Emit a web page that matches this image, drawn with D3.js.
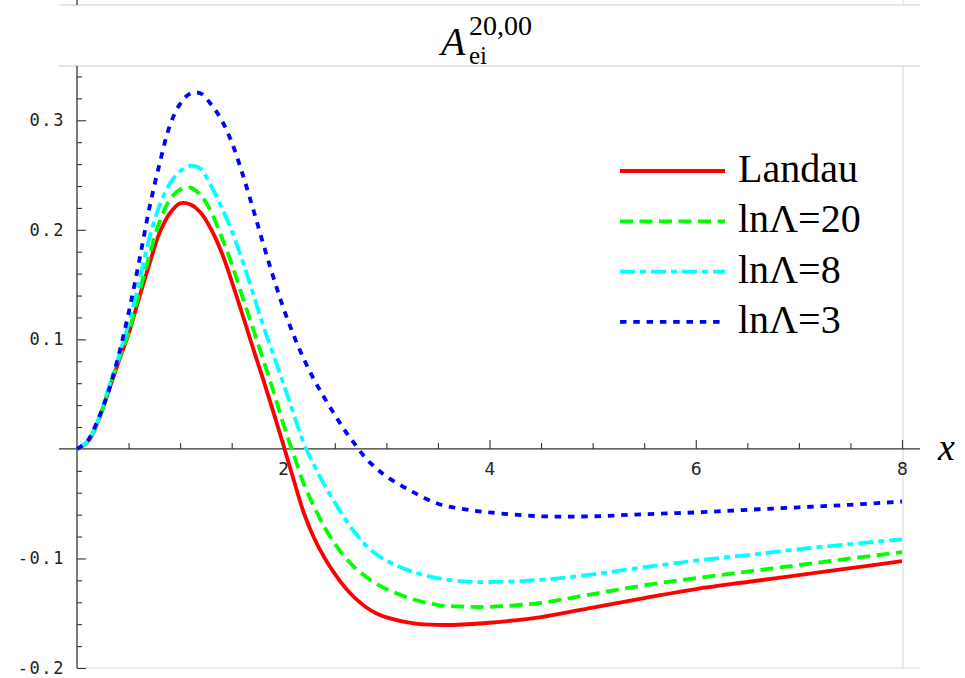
<!DOCTYPE html>
<html>
<head>
<meta charset="utf-8">
<script src="https://cdn.jsdelivr.net/npm/d3@7"></script>
<style>
  body { margin: 0; background: #fff; }
  svg { display: block; }
  .serif { font-family: "Liberation Serif", Tinos, "Times New Roman", Times, "Nimbus Roman", "DejaVu Serif", serif; }
  .mono { font-family: "DejaVu Sans Mono", "Liberation Mono", monospace; }
  .sans { font-family: "DejaVu Sans", sans-serif; }
</style>
</head>
<body>
<div id="chart"></div>
<script>
// data
const xs = [0, 0.1, 0.2, 0.3, 0.4, 0.5, 0.6, 0.7, 0.8, 0.9, 1.0, 1.1, 1.2, 1.3, 1.4, 1.5, 1.6, 1.7, 1.8, 1.9, 2.0,
  2.1, 2.2, 2.3, 2.4, 2.5, 2.6, 2.7, 2.8, 2.9, 3.0, 3.25, 3.5, 3.75, 4.0, 4.5, 5.0, 5.5, 6.0, 6.5, 7.0, 7.5, 8.0]

const landau = [0, .006, .024, .051, .0786, .105, .137, .168, .197, .215, .2242, .2232, .2155, .2005, .180, .153, .124, .094, .065, .035, .004,
  -.028, -.0585, -.0815, -.0993, -.114, -.1265, -.1365, -.1443, -.150, -.1538,
  -.159, -.1607, -.1603, -.1587, -.1535, -.1448, -.1362, -.128, -.1215, -.1152, -.1088, -.1025]

const lnL20 = [0, .006, .024, .052, .080, .106, .141, .176, .207, .2274, .2368, .2385, .2315, .2165, .194, .169, .140, .112, .083, .054, .023,
  -.005, -.032, -.053, -.0715, -.0865, -.099, -.109, -.1165, -.123, -.128,
  -.137, -.1425, -.144, -.1442, -.1405, -.1325, -.1245, -.118, -.112, -.106, -.100, -.0943]

const lnL8 = [0, .007, .025, .054, .083, .114, .151, .192, .222, .242, .2535, .2585, .2555, .240, .221, .199, .173, .144, .114, .087, .060,
  .032, .005, -.015, -.033, -.049, -.064, -.077, -.088, -.096, -.102,
  -.112, -.118, -.121, -.1215, -.1195, -.1145, -.108, -.102, -.097, -.0916, -.087, -.0825]

const lnL3 = [0, .007, .026, .051, .084, .124, .170, .219, .260, .295, .315, .3245, .3245, .3145, .3005, .280, .2525, .2215, .189, .158, .129,
  .104, .082, .063, .0465, .031, .0165, .0037, -.0085, -.0175, -.025,
  -.039, -.050, -.055, -.058, -.0615, -.0615, -.0596, -.058, -.0556, -.0533, -.051, -.048]

const seriesNames = ['Landau', 'lnΛ=20', 'lnΛ=8', 'lnΛ=3']
const seriesValues = [landau, lnL20, lnL8, lnL3]
const seriesColors = ['#ff0000', '#00ff00', '#00ffff', '#0000ff']
const seriesDash = [null, '13,6.5', '15,5,6,5', '6.5,6.8']

const xTickValues = [2, 4, 6, 8]
const xTickLabels = ['2', '4', '6', '8']
const yTickValues = [-0.2, -0.1, 0.1, 0.2, 0.3]
const yTickLabels = ['-0.2', '-0.1', '0.1', '0.2', '0.3']

const width = 965
const height = 678

const svg = d3.select('#chart')
  .append('svg')
  .attr('width', width)
  .attr('height', height)

svg.append('rect').attr('width', width).attr('height', height).attr('fill', '#fff')

const x = d3.scaleLinear().domain([0, 8]).range([77, 902])
const y = d3.scaleLinear().domain([-0.2, 0.35]).range([668, 65.5])

// frame bits (edge of the panel above, this panel's gray border)
const gray = '#dcdcdc'
svg.append('line').attr('x1', 59).attr('x2', 920).attr('y1', 5).attr('y2', 5)
  .attr('stroke', gray).attr('stroke-width', 1.5)
svg.append('line').attr('x1', 903).attr('x2', 903).attr('y1', 0).attr('y2', 6)
  .attr('stroke', gray)
svg.append('line').attr('x1', 77).attr('x2', 77).attr('y1', 0).attr('y2', 5)
  .attr('stroke', '#333').attr('stroke-width', 1.2)
svg.append('line').attr('x1', 59).attr('x2', 920).attr('y1', 66).attr('y2', 66)
  .attr('stroke', gray).attr('stroke-width', 1.5)
svg.append('line').attr('x1', 903).attr('x2', 903).attr('y1', 66).attr('y2', 668)
  .attr('stroke', gray).attr('stroke-width', 1.2)
svg.append('line').attr('x1', 77).attr('x2', 920).attr('y1', 668).attr('y2', 668)
  .attr('stroke', gray).attr('stroke-width', 1.2)

// title: A with subscript and superscript
const title = svg.append('text').attr('class', 'serif').attr('fill', '#000')
title.append('tspan').attr('x', 441).attr('y', 55).attr('font-size', 40).attr('font-style', 'italic').text('A')
title.append('tspan').attr('x', 469).attr('y', 35).attr('font-size', 28).text('20,00')
svg.append('text').attr('class', 'serif')
  .attr('x', 469).attr('y', 64).attr('font-size', 25).text('ei')

// minor ticks
const yMinor = d3.range(-9, 18).filter(i => i % 5 !== 0).map(i => i * 0.02)
const xMinor = d3.range(1, 16).filter(i => i % 4 !== 0).map(i => i * 0.5)

svg.append('g')
  .attr('transform', 'translate(77,0)')
  .call(d3.axisLeft(y).tickValues(yMinor).tickSize(-5).tickFormat(''))
  .call(g => g.select('.domain').remove())

svg.append('g')
  .attr('transform', `translate(0,${y(0)})`)
  .call(d3.axisBottom(x).tickValues(xMinor).tickSize(-6).tickFormat(''))
  .call(g => g.select('.domain').remove())

// major ticks and labels
const yAxis = svg.append('g')
  .attr('transform', 'translate(77,0)')
  .call(d3.axisLeft(y).tickValues(yTickValues).tickSize(-9).tickPadding(12)
    .tickFormat((d, i) => yTickLabels[i]))
  .call(g => g.select('.domain').remove())
yAxis.attr('font-family', null)
yAxis.selectAll('text')
  .attr('class', 'mono')
  .attr('font-size', 17)
  .attr('letter-spacing', 1.6)
  .attr('fill', '#222')

const xAxis = svg.append('g')
  .attr('transform', `translate(0,${y(0)})`)
  .call(d3.axisBottom(x).tickValues(xTickValues).tickSize(-9)
    .tickFormat((d, i) => xTickLabels[i]))
  .call(g => g.select('.domain').remove())
xAxis.attr('font-family', null)
xAxis.selectAll('text')
  .attr('class', 'sans')
  .attr('y', 26)
  .attr('dy', 0)
  .attr('font-size', 17)
  .attr('fill', '#222')

svg.selectAll('.tick line').attr('stroke', '#333').attr('stroke-width', 1.1)

// axis lines
svg.append('line').attr('x1', 77).attr('x2', 77).attr('y1', 66).attr('y2', 668)
  .attr('stroke', '#333').attr('stroke-width', 1.3)
svg.append('line').attr('x1', 59).attr('x2', 920).attr('y1', y(0)).attr('y2', y(0))
  .attr('stroke', '#333').attr('stroke-width', 1.3)

svg.append('text')
  .attr('class', 'serif')
  .attr('x', 938).attr('y', 460)
  .attr('font-style', 'italic')
  .attr('font-size', 38)
  .text('x')

// curves
const line = d3.line()
  .x(d => x(d[0]))
  .y(d => y(d[1]))
  .curve(d3.curveCatmullRom.alpha(0.5))

seriesValues.forEach((vals, k) => {
  svg.append('path')
    .datum(xs.map((v, i) => [v, vals[i]]))
    .attr('d', line)
    .attr('fill', 'none')
    .attr('stroke', seriesColors[k])
    .attr('stroke-width', 3.8)
    .attr('stroke-dasharray', seriesDash[k])
})

// legend
const legend = svg.append('g').attr('transform', 'translate(620,171)')
seriesNames.forEach((name, k) => {
  const row = legend.append('g').attr('transform', `translate(0,${k * 50.3})`)
  row.append('line')
    .attr('x1', 0).attr('x2', 105)
    .attr('stroke', seriesColors[k])
    .attr('stroke-width', 3.8)
    .attr('stroke-dasharray', seriesDash[k])
  row.append('text')
    .attr('class', 'serif')
    .attr('x', 118).attr('y', 11)
    .attr('font-size', 40)
    .text(name)
})
</script>
</body>
</html>
